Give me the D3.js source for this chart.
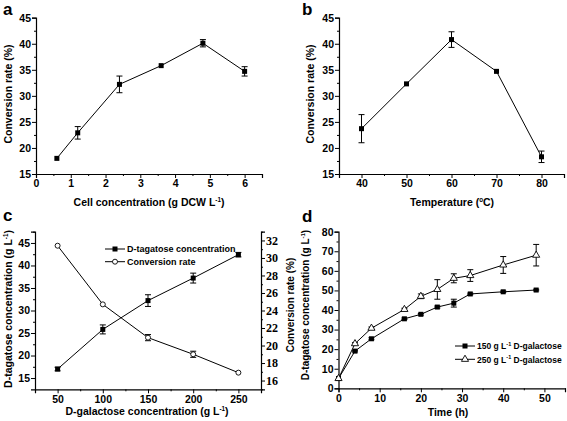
<!DOCTYPE html>
<html><head><meta charset="utf-8">
<script src="https://cdn.jsdelivr.net/npm/d3@7"></script>
<style>body{margin:0;background:#fff}svg{display:block}</style>
</head><body>
<script>
// ---- data ----
const cellConc = [0.6, 1.2, 2.4, 3.6, 4.8, 6.0];
const cellRate = [18.0, 22.9, 32.2, 35.8, 40.1, 34.7];
const cellErr  = [0.2, 1.2, 1.6, 0.2, 0.7, 0.9];

const temps = [40, 50, 60, 70, 80];
const tempRate = [23.7, 32.3, 40.8, 34.7, 18.3];
const tempErr  = [2.7, 0.2, 1.5, 0.2, 1.1];

const galConc = [50, 100, 150, 200, 250];
const tagConc = [17.0, 25.8, 32.2, 37.2, 42.4];
const tagErr  = [0.4, 1.0, 1.3, 1.1, 0.5];
const galRate = [31.4, 24.7, 20.9, 19.0, 16.9];
const galRateErr = [0.15, 0.2, 0.35, 0.35, 0.2];

const times = [0, 4, 8, 16, 20, 24, 28, 32, 40, 48];
const d150 = [5.0, 19.0, 25.3, 35.5, 37.8, 41.5, 43.5, 48.2, 49.3, 50.2];
const d150Err = [0.3, 0.4, 0.5, 0.4, 0.4, 0.5, 2.0, 0.4, 0.4, 0.4];
const d250 = [5.0, 22.8, 30.7, 40.3, 47.0, 50.5, 56.2, 57.6, 63.0, 68.0];
const d250Err = [0.3, 0.5, 0.6, 0.6, 1.2, 5.0, 2.3, 3.0, 4.3, 5.5];

const legendC = ["D-tagatose concentration", "Conversion rate"];
const legendD = ["150", "250"];

// ---- drawing ----
const svg = d3.select("body").append("svg").attr("width", 567).attr("height", 421);
const FONT = "Arial, 'Liberation Sans', sans-serif";
const SERIF = "'Liberation Serif', 'Times New Roman', serif";

function ticksAxis(g, scale, orient, major, minor, serif) {
  const mk = orient === "bottom" ? d3.axisBottom : orient === "left" ? d3.axisLeft : d3.axisRight;
  g.call(mk(scale).tickValues(major).tickSizeOuter(0).tickSize(4).tickPadding(orient === "bottom" ? 2 : 1).tickFormat(d3.format("d")));
  g.append("g").call(mk(scale).tickValues(minor).tickSizeOuter(0).tickSize(2).tickFormat("")).select(".domain").remove();
  g.selectAll("path.domain").attr("stroke", "#000").attr("stroke-width", 1.2);
  g.selectAll("line").attr("stroke", "#000").attr("stroke-width", 1);
  g.selectAll("text").attr("font-family", serif ? SERIF : FONT)
    .attr("font-weight", "bold").attr("font-size", serif ? 12 : 10.5).attr("fill", "#000");
}

function range(a, b, s) { const r = []; for (let v = a; v <= b + 1e-9; v += s) r.push(+v.toFixed(4)); return r; }

function series(g, x, y, xs, ys, es, marker) {
  const line = d3.line().x((d, i) => x(xs[i])).y(d => y(d));
  g.append("path").datum(ys).attr("d", line).attr("fill", "none").attr("stroke", "#000").attr("stroke-width", 1);
  ys.forEach((v, i) => {
    const cx = x(xs[i]), e = es[i];
    if (e > 0.3) {
      const y1 = y(v - e), y2 = y(v + e);
      g.append("line").attr("x1", cx).attr("x2", cx).attr("y1", y1).attr("y2", y2).attr("stroke", "#000").attr("stroke-width", 1);
      [y1, y2].forEach(yy => g.append("line").attr("x1", cx - 3).attr("x2", cx + 3).attr("y1", yy).attr("y2", yy).attr("stroke", "#000").attr("stroke-width", 1));
    }
    drawMarker(g, marker, cx, y(v));
  });
}
function drawMarker(g, marker, cx, cy) {
  if (marker === "square") g.append("rect").attr("x", cx - 2.5).attr("y", cy - 2.5).attr("width", 5).attr("height", 5).attr("fill", "#000");
  else if (marker === "circle") g.append("circle").attr("cx", cx).attr("cy", cy).attr("r", 2.5).attr("fill", "#fff").attr("stroke", "#000").attr("stroke-width", 0.9);
  else if (marker === "triangle") g.append("path").attr("d", d3.symbol(d3.symbolTriangle, 22)()).attr("transform", `translate(${cx},${cy})`).attr("fill", "#fff").attr("stroke", "#000").attr("stroke-width", 0.9);
}

function label(txt, x, y) {
  svg.append("text").attr("x", x).attr("y", y).text(txt).attr("font-family", FONT).attr("font-weight", "bold").attr("font-size", 17).attr("fill", "#000");
}
function title(parts, x, y, rot, size) {
  const s = size || 10.5;
  const t = svg.append("text").attr("transform", `translate(${x},${y}) rotate(${rot || 0})`).attr("text-anchor", "middle")
    .attr("font-family", FONT).attr("font-weight", "bold").attr("font-size", s).attr("fill", "#000");
  parts.forEach(p => {
    const ts = t.append("tspan").text(p[0]);
    if (p[1] === "sup") ts.attr("font-size", s * 0.6).attr("dy", -4.5);
    else if (p[1] === "back") ts.attr("dy", 4.5);
  });
  return t;
}

// Panel a
{
  const x = d3.scaleLinear().domain([0, 6.5]).range([36, 262]);
  const y = d3.scaleLinear().domain([15, 45]).range([174, 17.7]);
  const g = svg.append("g");
  ticksAxis(g.append("g").attr("transform", "translate(0,174)"), x, "bottom", range(0, 6, 1), range(0.5, 6.5, 1));
  ticksAxis(g.append("g").attr("transform", "translate(36,0)"), y, "left", range(15, 45, 5), range(17.5, 42.5, 5));
  series(g, x, y, cellConc, cellRate, cellErr, "square");
  label("a", 3, 15);
  title([["Cell concentration (g DCW L"], ["-1", "sup"], [")", "back"]], 149, 206);
  title([["Conversion rate (%)"]], 12, 94, -90);
}
// Panel b
{
  const x = d3.scaleLinear().domain([35, 85]).range([339, 564]);
  const y = d3.scaleLinear().domain([15, 45]).range([174, 17.7]);
  const g = svg.append("g");
  ticksAxis(g.append("g").attr("transform", "translate(0,174)"), x, "bottom", range(40, 80, 10), range(45, 85, 10));
  ticksAxis(g.append("g").attr("transform", "translate(339,0)"), y, "left", range(15, 45, 5), range(17.5, 42.5, 5));
  series(g, x, y, temps, tempRate, tempErr, "square");
  label("b", 302, 15);
  title([["Temperature ("], ["o", "sup"], ["C)", "back"]], 452, 206);
  title([["Conversion rate (%)"]], 314, 94, -90);
}
// Panel c
{
  const x = d3.scaleLinear().domain([25, 275]).range([35, 261]);
  const y = d3.scaleLinear().domain([12.5, 47.5]).range([389.3, 231.7]);
  const y2 = d3.scaleLinear().domain([15, 33]).range([389.3, 231.7]);
  const g = svg.append("g");
  ticksAxis(g.append("g").attr("transform", "translate(0,389.3)"), x, "bottom", range(50, 250, 50), range(75, 275, 50));
  ticksAxis(g.append("g").attr("transform", "translate(35,0)"), y, "left", range(15, 45, 5), range(17.5, 47.5, 5));
  ticksAxis(g.append("g").attr("transform", "translate(261,0)"), y2, "right", range(16, 32, 2), range(15, 33, 2), true);
  series(g, x, y, galConc, tagConc, tagErr, "square");
  series(g, x, y2, galConc, galRate, galRateErr, "circle");
  legendC.forEach((name, i) => {
    const ly = 249 + i * 12.7;
    g.append("line").attr("x1", 105).attr("x2", 125).attr("y1", ly).attr("y2", ly).attr("stroke", "#000");
    drawMarker(g, i === 0 ? "square" : "circle", 115, ly);
    g.append("text").attr("x", 127).attr("y", ly + 3.3).text(name).attr("font-family", FONT).attr("font-weight", "bold").attr("font-size", 9).attr("fill", "#000");
  });
  label("c", 3, 221);
  title([["D-galactose concentration (g L"], ["-1", "sup"], [")", "back"]], 147, 415);
  title([["D-tagatose concentration (g L"], ["-1", "sup"], [")", "back"]], 12, 309, -90);
}
// Panel d
{
  const x = d3.scaleLinear().domain([0, 55]).range([338.5, 565]);
  const y = d3.scaleLinear().domain([0, 80]).range([388.3, 231.7]);
  const g = svg.append("g");
  ticksAxis(g.append("g").attr("transform", "translate(0,388.3)"), x, "bottom", range(0, 50, 10), range(5, 55, 10));
  ticksAxis(g.append("g").attr("transform", "translate(338.5,0)"), y, "left", range(0, 80, 10), range(5, 75, 10));
  series(g, x, y, times, d150, d150Err, "square");
  series(g, x, y, times, d250, d250Err, "triangle");
  legendD.forEach((name, i) => {
    const ly = 346 + i * 13.3;
    g.append("line").attr("x1", 455).attr("x2", 475).attr("y1", ly).attr("y2", ly).attr("stroke", "#000");
    drawMarker(g, i === 0 ? "square" : "triangle", 465, ly);
    const t = g.append("text").attr("x", 477).attr("y", ly + 3.2).attr("font-family", FONT).attr("font-weight", "bold").attr("font-size", 8.5).attr("fill", "#000");
    t.append("tspan").text(name + " g L");
    t.append("tspan").text("-1").attr("font-size", 5.5).attr("dy", -3.5);
    t.append("tspan").text(" D-galactose").attr("dy", 3.5);
  });
  label("d", 302, 222);
  title([["Time (h)"]], 448, 416);
  title([["Conversion rate (%)"]], 294, 305, -90, 10);
  title([["D-tagatose concentration (g L"], ["-1", "sup"], [")", "back"]], 309, 305, -90, 10);
}
</script>
</body></html>
